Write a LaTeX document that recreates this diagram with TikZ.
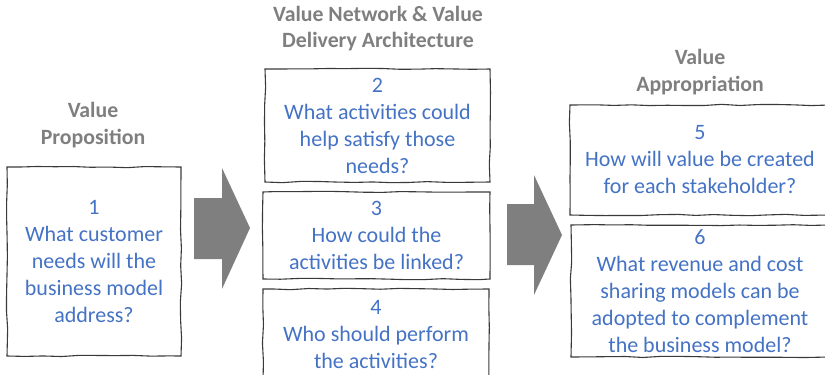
\documentclass[tikz,border=0pt]{standalone}
\usepackage{fontspec}
\setmainfont{Carlito}
\usetikzlibrary{decorations.pathmorphing}

\definecolor{qblue}{HTML}{4472C4}
\definecolor{headgray}{HTML}{7F7F7F}
\definecolor{linegray}{HTML}{3A3A3A}

\begin{document}
\pgfmathsetseed{42}
\begin{tikzpicture} [x=1pt, y=-1pt,
				question/.style={
				% The shape:
				rectangle,
				% The border:
				draw=linegray, line width=1.1pt,
				decorate, decoration={random steps, segment length=18pt, amplitude=0.7pt},
				% The text:
				text=qblue, inner sep=0pt,
				font=\fontsize{22}{27}\selectfont
				},
				heading/.style={
				% The text:
				text=headgray,
				font=\bfseries\fontsize{21.8}{26.5}\selectfont
				},
				bigarrow/.style={
				% The filling:
				fill=headgray
				},
				]
    \tikzstyle{every node} = [align=center]
    \clip (0,0) rectangle (825,375);
    \useasboundingbox (0,0) rectangle (825,375);
    % headings
    \node [heading] (hProp) at (93,125) {Value\\Proposition};
    \node [heading] (hNet) at (378,28.5) {Value Network \& Value\\Delivery Architecture};
    \node [heading] (hApp) at (700,72) {Value\\Appropriation};
    % questions
    \node [question, minimum width=174, minimum height=189] (q1) at (94,261.5)
        {1\\What customer\\needs will the\\business model\\address?};
    \node [question, minimum width=225, minimum height=113] (q2) at (377.5,125.5)
        {2\\What activities could\\help satisfy those\\needs?};
    \node [question, minimum width=227, minimum height=87] (q3) at (376.5,235.5)
        {3\\How could the\\activities be linked?};
    \node [question, minimum width=226, minimum height=92] (q4) at (376,335)
        {4\\Who should perform\\the activities?};
    \node [question, minimum width=260, minimum height=110] (q5) at (700,160)
        {5\\How will value be created\\for each stakeholder?};
    \node [question, minimum width=258, minimum height=132] (q6) at (700,291)
        {6\\What revenue and cost\\sharing models can be\\adopted to complement\\the business model?};
    % arrows
    \fill [bigarrow] (194,198) -- (222,198) -- (222,168) -- (250,228)
        -- (222,289) -- (222,259) -- (194,259) -- cycle;
    \fill [bigarrow] (507,204) -- (534,204) -- (534,175) -- (562,235)
        -- (534,295) -- (534,265) -- (507,265) -- cycle;
\end{tikzpicture}
\end{document}
